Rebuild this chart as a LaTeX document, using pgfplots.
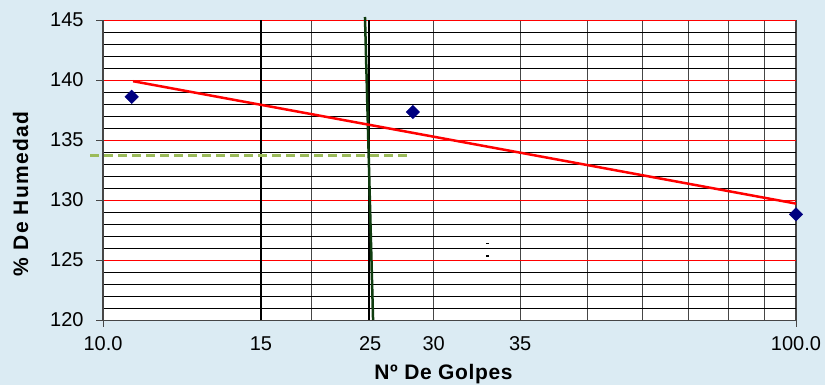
\documentclass[border=0pt]{standalone}
\usepackage{pgfplots}
\pgfplotsset{compat=1.18}
\usepackage{fontspec}
\setmainfont{Liberation Sans}
\definecolor{bgblue}{RGB}{219,235,243}
\definecolor{navy}{RGB}{0,0,128}
\definecolor{darkgreen}{RGB}{15,60,15}
\definecolor{olivegreen}{RGB}{155,187,89}
\definecolor{gridgray}{RGB}{70,70,70}

\begin{document}
\begin{tikzpicture}
\fill[bgblue] (0pt,0pt) rectangle (825pt,385pt);
\begin{axis}[
  at={(103pt,65pt)}, anchor=south west,
  scale only axis, width=693pt, height=300pt,
  xmode=log, xmin=10, xmax=100, ymin=120, ymax=145,
  clip=false,
  axis background/.style={fill=white},
  axis lines*=left,
  axis line style={gridgray, line width=0.8pt},
  tick align=outside, major tick length=7pt, minor tick length=0pt,
  tick style={gridgray, line width=0.8pt},
  xtick={10,100}, xticklabels={10.0,100.0},
  minor xtick={20,30,40,50,60,70,80,90},
  extra x ticks={16.9,24.3,30,40},
  extra x tick labels={15,\raisebox{-4pt}{25},30,35},
  extra x tick style={grid=none, tick style={draw=none}},
  ytick={120,125,...,145},
  minor y tick num=4,
  grid=both,
  major x grid style={gridgray, line width=1.2pt},
  minor x grid style={gridgray, line width=1.2pt},
  major y grid style={red, line width=0.9pt},
  minor y grid style={black, line width=0.9pt},
  tick label style={font=\fontsize{20}{24}\selectfont},
  xticklabel style={yshift=-6pt},
  yticklabel style={xshift=-9pt},
  /pgf/number format/assume math mode=true,
]
% vertical reference lines
\addplot[black, line width=2.8pt] coordinates {(16.9,120) (16.9,145)};
\addplot[black, line width=2pt] coordinates {(24.2,120) (24.2,145)};
\addplot[darkgreen, line width=2.5pt] coordinates {(23.88,145.25) (24.53,120)};
% trend line
\addplot[red, line width=2.5pt] coordinates {(11.05,139.9) (100,129.7)};
% dashed level
\addplot[olivegreen, line width=2.5pt, dash pattern=on 9pt off 5pt] coordinates {(9.58,133.69) (27.7,133.69)};
% tiny marks
\addplot[only marks, mark=-, mark size=1.5pt, black, line width=1.5pt] coordinates {(35.9,126.39) (35.9,125.33)};
% data points
\addplot[only marks, mark=square*, mark size=4.8pt, navy, mark options={fill=navy, rotate=45}] coordinates {(11,138.6) (28,137.33) (100,128.8)};
\end{axis}
\node[anchor=base, font=\fontsize{21}{25}\selectfont\bfseries\addfontfeature{LetterSpace=3}] at (443.5pt,5pt) {Nº De Golpes};
\node[anchor=base, rotate=90, font=\fontsize{21}{25}\selectfont\bfseries\addfontfeature{LetterSpace=6}] at (28pt,191pt) {\% De Humedad};
\pgfresetboundingbox
\useasboundingbox (0pt,0pt) rectangle (825pt,385pt);
\end{tikzpicture}
\end{document}
